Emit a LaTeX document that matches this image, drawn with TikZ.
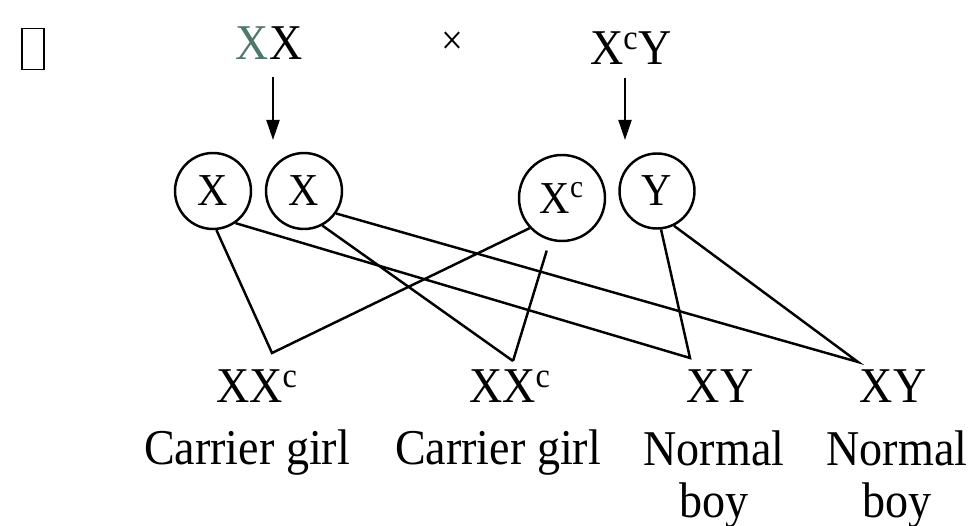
\documentclass[tikz,border=0pt]{standalone}
\usepackage{fontspec}
\setmainfont{Liberation Serif}[FakeStretch=0.92]
\usetikzlibrary{arrows.meta}
\definecolor{xgreen}{RGB}{78,120,104}

\begin{document}
\begin{tikzpicture}[
    gene/.style={font=\fontsize{28.5}{29.5}\selectfont, inner sep=1pt, anchor=base, align=center},
    gamete/.style={draw, circle, line width=1.4pt, inner sep=0pt, minimum size=1.52cm, font=\fontsize{26}{26}\selectfont},
    cross/.style={line width=1.4pt},
    arr/.style={line width=1.2pt, -{Triangle[length=4mm,width=2.6mm]}}
]
    \useasboundingbox (0,0) rectangle (19.52,-10.52);
    \node[draw, line width=0.6pt, minimum width=0.44cm, minimum height=0.82cm, inner sep=0pt] (tofu) at (0.66,-0.98) {};
    % parents
    \node[gene] (mother) at (5.38,-1.20) {{\color{xgreen}X}X};
    \node[gene, font=\fontsize{24}{24}\selectfont] (times) at (9.04,-1.10) {×};
    \node[gene] (father) at (12.62,-1.30) {X\textsuperscript{c}Y};
    \coordinate (mtip) at (5.46,-2.80);
    \coordinate (ftip) at (12.50,-2.80);
    \draw[arr] (mother.south -| mtip) ++(0,-0.30) -- (mtip);
    \draw[arr] (father.south -| ftip) ++(0,-0.21) -- (ftip);
    % gametes
    \node[gamete] (x1) at (4.26,-3.82) {X};
    \node[gamete] (x2) at (6.08,-3.82) {X};
    \node[gamete, minimum size=1.72cm] (xc) at (11.24,-3.96) {X\textsuperscript{c}};
    \node[gamete, minimum size=1.50cm] (y) at (13.14,-3.82) {Y};
    % offspring
    \coordinate (k1) at (5.44,-7.06);
    \coordinate (k2) at (10.26,-7.22);
    \coordinate (k3) at (13.80,-7.16);
    \coordinate (k4) at (17.16,-7.24);
    \draw[cross] (x1.-85) -- (k1) -- (xc.-137);
    \draw[cross] (x2.-62) -- (k2);
    \draw[cross, shorten <=6pt] (xc.-106) -- (k2);
    \draw[cross] (x1.-55) -- (k3) -- (y.-84);
    \draw[cross] (x2.-35) -- (k4) -- (y.-64);
    \node[gene] (c1) at (5.14,-8.06) {XX\textsuperscript{c}};
    \node[gene] (c2) at (10.20,-8.06) {XX\textsuperscript{c}};
    \node[gene] (c3) at (14.40,-8.06) {XY};
    \node[gene] (c4) at (17.86,-8.06) {XY};
    \node[gene] (p1) at (4.94,-9.30) {Carrier girl};
    \node[gene] (p2) at (9.96,-9.30) {Carrier girl};
    \node[gene] (p3) at (14.28,-10.34) {Normal\\boy};
    \node[gene] (p4) at (17.94,-10.34) {Normal\\boy};
\end{tikzpicture}
\end{document}
